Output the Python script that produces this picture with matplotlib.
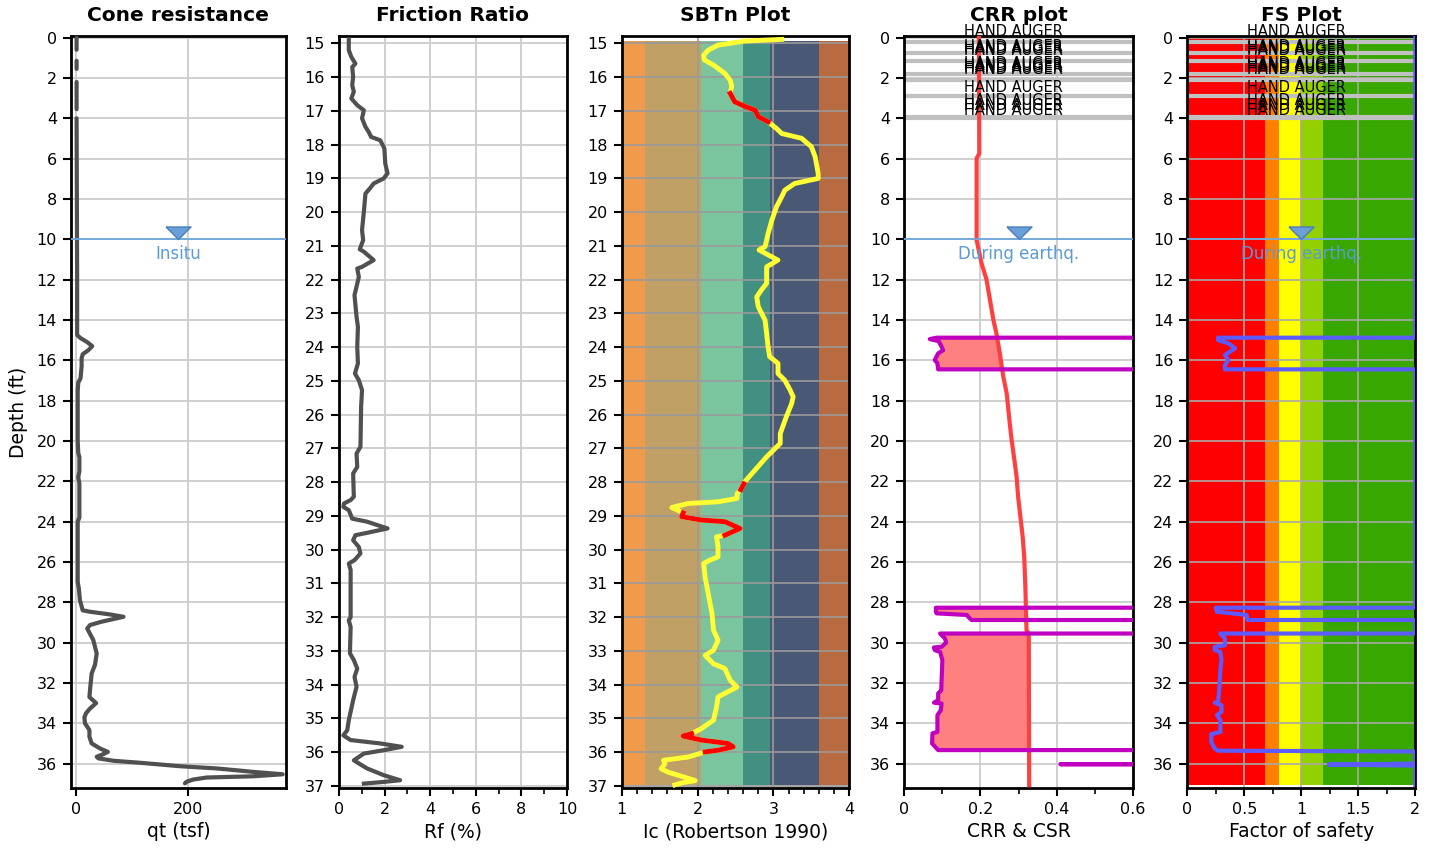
import numpy as np
import matplotlib
matplotlib.use('Agg')
import matplotlib.pyplot as plt
from matplotlib.ticker import MultipleLocator

nan = np.nan

# cone resistance qt (tsf) vs depth (ft), nan = gap (hand auger zone)
qt_depth = [0.00, 0.60, nan, 1.15, 1.55, nan, 2.20, 2.95, nan, 3.05,
            3.55, nan, 4.00, 8.00, 12.0, 14.75, 14.90, 15.10, 15.30, 15.50,
            15.70, 15.90, 16.30, 16.60, 16.90, 17.10, 17.50, 20.00, 20.60, 20.80,
            21.50, 21.80, 22.10, 23.80, 24.00, 27.00, 27.30, 27.90, 28.40, 28.47,
            28.60, 28.72, 28.97, 29.13, 29.30, 29.88, 30.54, 31.10, 31.53, 32.36,
            32.70, 33.00, 33.27, 33.50, 33.70, 34.00, 34.34, 34.67, 35.00, 35.25,
            35.42, 35.53, 35.66, 35.74, 35.86, 35.96, 36.13, 36.24, 36.41, 36.53,
            36.63, 36.69, 36.79, 36.90, 36.98]
qt_val = [1, 1, nan, 1, 1, nan, 1, 1, nan, 1,
          1, nan, 1, 1.5, 2, 2, 8, 20, 29, 22,
          12, 10, 10, 9, 8, 4, 3, 3, 4, 6,
          6, 4, 6, 6, 3, 3, 5, 7, 12, 25,
          60, 85, 45, 25, 20, 31, 37, 34, 28, 25,
          24, 36, 25, 18, 15, 16, 24, 24, 28, 43,
          57, 49, 37, 40, 67, 115, 186, 252, 317, 370,
          317, 234, 210, 198, 195]

# friction ratio Rf (%)
rf_depth = [14.88, 15.20, 15.40, 15.60, 15.70, 15.99, 16.24, 16.43, 16.63, 16.83,
            16.98, 17.22, 17.47, 17.62, 17.77, 17.87, 18.11, 18.56, 18.85, 19.00,
            19.15, 19.30, 19.45, 19.99, 20.53, 20.83, 21.10, 21.17, 21.42, 21.62,
            21.67, 21.92, 22.46, 23.10, 23.40, 23.99, 24.48, 24.78, 24.98, 25.27,
            25.77, 26.95, 27.15, 27.55, 27.74, 28.43, 28.53, 28.63, 28.73, 28.83,
            29.08, 29.17, 29.37, 29.50, 29.57, 29.72, 29.92, 30.11, 30.31, 30.41,
            30.60, 32.00, 32.09, 32.29, 33.07, 33.27, 33.52, 33.77, 34.06, 34.46,
            35.05, 35.35, 35.50, 35.64, 35.74, 35.84, 35.94, 36.04, 36.24, 36.39,
            36.48, 36.68, 36.83, 36.88, 36.93]
rf_val = [0.43, 0.43, 0.54, 0.72, 0.58, 0.62, 0.58, 0.65, 0.54, 0.80,
          1.09, 1.01, 1.16, 1.30, 1.41, 1.81, 1.99, 2.03, 2.13, 1.96,
          1.52, 1.35, 1.16, 1.09, 1.01, 1.06, 0.91, 1.09, 1.52, 1.01,
          0.80, 0.87, 0.68, 0.77, 0.83, 0.80, 0.83, 0.70, 0.87, 1.01,
          0.97, 0.94, 0.77, 0.80, 0.62, 0.65, 0.51, 0.22, 0.19, 0.43,
          0.58, 1.23, 2.13, 1.23, 0.72, 0.62, 0.87, 0.94, 0.68, 0.43,
          0.51, 0.51, 0.43, 0.51, 0.48, 0.65, 0.80, 0.68, 0.77, 0.62,
          0.43, 0.36, 0.19, 0.51, 1.81, 2.75, 1.96, 1.09, 0.65, 1.01,
          1.23, 1.96, 2.68, 1.96, 1.09]

# soil behaviour type index Ic
ic_depth = [14.88, 14.93, 15.05, 15.20, 15.35, 15.49, 15.64, 15.89, 16.09, 16.26,
            16.48, 16.73, 16.86, 16.98, 17.17, 17.32, 17.52, 17.67, 17.81, 18.06,
            18.36, 18.85, 19.00, 19.15, 19.35, 19.54, 19.84, 20.23, 20.63, 20.83,
            21.02, 21.12, 21.42, 21.62, 22.11, 22.31, 22.51, 22.80, 23.20, 23.99,
            24.28, 24.48, 24.78, 24.98, 25.27, 25.47, 25.67, 26.06, 26.56, 26.85,
            27.25, 27.99, 28.05, 28.22, 28.34, 28.48, 28.58, 28.63, 28.75, 28.91,
            29.02, 29.12, 29.17, 29.37, 29.57, 29.62, 29.92, 30.21, 30.31, 30.41,
            30.81, 31.30, 31.89, 32.38, 32.68, 32.98, 33.13, 33.38, 33.52, 33.87,
            34.07, 34.36, 34.66, 35.05, 35.30, 35.45, 35.52, 35.64, 35.74, 35.84,
            35.94, 35.99, 36.14, 36.24, 36.34, 36.49, 36.59, 36.74, 36.84, 36.91,
            36.97]
ic_val = [3.11, 2.62, 2.27, 2.14, 2.08, 2.09, 2.21, 2.36, 2.43, 2.45,
          2.43, 2.49, 2.62, 2.76, 2.80, 2.93, 3.04, 3.11, 3.37, 3.50,
          3.55, 3.59, 3.59, 3.28, 3.15, 3.11, 3.04, 2.98, 2.93, 2.91,
          2.89, 2.81, 3.06, 2.91, 2.91, 2.84, 2.78, 2.80, 2.89, 2.93,
          2.95, 3.06, 3.06, 3.15, 3.22, 3.26, 3.24, 3.17, 3.09, 3.09,
          2.91, 2.62, 2.61, 2.57, 2.52, 2.52, 2.27, 1.88, 1.66, 1.81,
          1.79, 2.05, 2.36, 2.56, 2.36, 2.25, 2.27, 2.27, 2.16, 2.08,
          2.10, 2.14, 2.19, 2.21, 2.27, 2.21, 2.10, 2.21, 2.36, 2.43,
          2.52, 2.27, 2.25, 2.21, 2.05, 1.92, 1.81, 2.05, 2.40, 2.47,
          2.27, 2.10, 1.88, 1.55, 1.57, 1.52, 1.61, 1.83, 1.97, 1.79,
          1.70]
ic_red_ranges = [(16.45, 17.35), (28.04, 28.23), (28.90, 29.58), (35.44, 36.00)]

# SBTn zone boundaries and colours
sbt_bounds = [1.0, 1.31, 2.05, 2.6, 2.95, 3.6, 4.0]
sbt_colors = ['#f09a4b', '#c0a064', '#7ac49e', '#429082', '#495875', '#b86a40']

# CSR (red) and CRR (magenta)
csr_depth = [0.0, 5.74, 5.99, 10.04, 11.2, 12.0, 13.0, 14.0, 14.67, 15.66, 16.81, 17.64,
             19.13, 19.96, 20.78, 21.77, 22.77, 23.76, 24.75, 25.75, 27.23, 29.38, 29.55, 37.07]
csr_val = [0.196, 0.197, 0.19, 0.19, 0.203, 0.216, 0.225, 0.234, 0.242, 0.251, 0.26, 0.269,
           0.277, 0.282, 0.288, 0.295, 0.299, 0.305, 0.311, 0.315, 0.318, 0.321, 0.327, 0.328]
crr_depth = [0.0, 14.88, 14.88, 14.95, 15.05, 15.33, 15.5, 15.66, 15.99, 16.15, 16.45, 16.45,
             28.27, 28.27, 28.47, 28.55, 28.63, 28.8, 28.88, 28.88, 29.55, 29.55, 29.8, 30.0,
             30.21, 30.24, 30.37, 30.46, 30.87, 32.36, 32.52, 32.85, 32.98, 33.02, 33.35, 33.6,
             34.43, 34.5, 35.0, 35.25, 35.33, 35.33, 36.0, 36.03, 36.06, 37.06]
crr_val = [2, 2, 0.085, 0.067, 0.09, 0.098, 0.102, 0.089, 0.08, 0.087, 0.089, 2,
           2, 0.083, 0.083, 0.085, 0.164, 0.172, 0.177, 2, 2, 0.094, 0.107, 0.11,
           0.098, 0.078, 0.08, 0.094, 0.1, 0.097, 0.089, 0.089, 0.078, 0.098, 0.096, 0.087,
           0.087, 0.074, 0.073, 0.085, 0.089, 2, 2, 0.41, 2, 2]

# factor of safety
fs_depth = [0.0, 14.88, 14.88, 15.0, 15.16, 15.41, 15.74, 15.99, 16.24, 16.45, 16.45,
            28.27, 28.27, 28.47, 28.63, 28.88, 28.88, 29.55, 29.55, 29.8, 30.13, 30.21,
            30.37, 30.46, 30.87, 31.37, 32.36, 32.94, 32.98, 33.1, 33.43, 33.6, 33.85,
            34.43, 34.54, 34.92, 35.25, 35.36, 35.4, 36.0, 36.05, 36.1, 37.06]
fs_val = [2, 2, 0.27, 0.27, 0.36, 0.42, 0.33, 0.36, 0.33, 0.33, 2,
          2, 0.25, 0.26, 0.52, 0.53, 2, 2, 0.29, 0.33, 0.33, 0.24,
          0.24, 0.29, 0.30, 0.29, 0.28, 0.27, 0.24, 0.30, 0.30, 0.26, 0.29,
          0.29, 0.21, 0.21, 0.24, 0.27, 2, 2, 1.24, 2, 2]
fs_bounds = [0, 0.68, 0.8, 1.0, 1.19, 2.0]
fs_colors = ['#fe0000', '#ff8000', '#ffff00', '#92d000', '#38a800']

# hand auger layers
auger_lines = [0.2, 0.74, 1.16, 1.8, 2.1, 2.89, 3.92, 4.0]
auger_labels = [-0.3, 0.45, 0.55, 0.65, 1.27, 1.37, 1.47, 1.6, 2.46, 3.1, 3.35, 3.6]

gwt = 10.0

plt.rcParams['font.family'] = 'DejaVu Sans'
fig = plt.figure(figsize=(14.31, 8.55), dpi=100)


def px_axes(x0, x1, y0=36, y1=788):
    return fig.add_axes([x0 / 1431, 1 - y1 / 855, (x1 - x0) / 1431, (y1 - y0) / 855])


def style(ax, title, xlabel):
    ax.set_title(title, fontsize=14.5, fontweight='bold', pad=11)
    ax.set_xlabel(xlabel, fontsize=13.5, labelpad=4)
    for s in ax.spines.values():
        s.set_linewidth(2)
    ax.tick_params(which='major', direction='out', length=6, width=1.5, labelsize=11.5, pad=4)
    ax.tick_params(which='minor', direction='out', length=4, width=1.2)
    ax.grid(True, which='major', color='#cccccc', lw=1.3)


tri = [(-1, 1), (1, 1), (0, 0), (-1, 1)]


def water(ax, label):
    ax.axhline(gwt, color='#6fa8dc', lw=1.3, zorder=3)
    tr = ax.get_yaxis_transform()
    ax.plot(0.5, gwt, marker=tri, ms=18, mfc='#6a9fd8', mec='#4a7ebb', mew=1,
            transform=tr, zorder=4)
    ax.text(0.5, gwt + 0.75, label, transform=tr, ha='center', va='center',
            fontsize=12, color='#5b9bd5', zorder=4)


def auger(ax):
    for d in auger_lines:
        ax.axhline(d, color='#c0c0c0', lw=3, zorder=2.5)
    for d in auger_labels:
        ax.text(0.48, d, 'HAND AUGER', transform=ax.get_yaxis_transform(), ha='center',
                va='center', fontsize=10.5, color='black', zorder=5, clip_on=False)


# --- Cone resistance
ax1 = px_axes(71, 285.7)
ax1.plot(qt_val, qt_depth, color='#505050', lw=3, solid_capstyle='round', zorder=3)
ax1.set_xlim(-9, 375.5)
ax1.set_ylim(37.21, -0.08)
ax1.set_xticks([0, 200])
ax1.set_yticks(np.arange(0, 37, 2))
style(ax1, 'Cone resistance', 'qt (tsf)')
ax1.set_ylabel('Depth (ft)', fontsize=13.5, labelpad=6)
water(ax1, 'Insitu')

# --- Friction ratio
ax2 = px_axes(339, 567)
ax2.plot(rf_val, rf_depth, color='#505050', lw=3, zorder=3)
ax2.set_xlim(0, 10)
ax2.set_ylim(37.06, 14.78)
ax2.set_xticks(np.arange(0, 11, 2))
ax2.xaxis.set_minor_locator(MultipleLocator(1))
ax2.set_yticks(np.arange(15, 38, 1))
style(ax2, 'Friction Ratio', 'Rf (%)')

# --- SBTn
ax3 = px_axes(621.7, 849.3)
for i, c in enumerate(sbt_colors):
    ax3.fill_betweenx([14.93, 36.98], sbt_bounds[i], sbt_bounds[i + 1], color=c, lw=0, zorder=1)
ax3.fill_betweenx([36.98, 37.06], 1, 4, color='#d6d6d6', lw=0, zorder=1)
ic_d = np.array(ic_depth)
ic_v = np.array(ic_val)
ax3.plot(ic_v, ic_d, color='#ffff33', lw=3.5, zorder=3)
red_mask = np.zeros(len(ic_d), bool)
for a, b in ic_red_ranges:
    red_mask |= (ic_d >= a) & (ic_d <= b)
ax3.plot(np.where(red_mask, ic_v, nan), ic_d, color='#ff0000', lw=3.5, zorder=4)
ax3.set_xlim(1, 4)
ax3.set_ylim(37.06, 14.78)
ax3.set_xticks([1, 2, 3, 4])
ax3.xaxis.set_minor_locator(MultipleLocator(0.2))
ax3.set_yticks(np.arange(15, 38, 1))
style(ax3, 'SBTn Plot', 'Ic (Robertson 1990)')
ax3.grid(True, which='major', color='#9a9a9a', lw=1.2)

# --- CRR
ax4 = px_axes(904.3, 1132.7)
crr_d = np.array(crr_depth)
crr_v = np.array(crr_val)
csr_at = np.interp(crr_d, csr_depth, csr_val)
ax4.fill_betweenx(crr_d, crr_v, csr_at, where=crr_v < csr_at, color='#ff8080', lw=0, zorder=2)
ax4.plot(csr_val, csr_depth, color='#ff4040', lw=3, zorder=3)
ax4.plot(crr_v, crr_d, color='#c000c0', lw=3, zorder=3)
ax4.set_xlim(0, 0.6)
ax4.set_ylim(37.21, -0.08)
ax4.set_xticks([0, 0.2, 0.4, 0.6])
ax4.set_xticklabels(['0', '0.2', '0.4', '0.6'])
ax4.xaxis.set_minor_locator(MultipleLocator(0.1))
ax4.set_yticks(np.arange(0, 37, 2))
style(ax4, 'CRR plot', 'CRR & CSR')
auger(ax4)
water(ax4, 'During earthq.')

# --- FS
ax5 = px_axes(1187.3, 1415.3)
for i, c in enumerate(fs_colors):
    ax5.fill_betweenx([-0.08, 37.06], fs_bounds[i], fs_bounds[i + 1], color=c, lw=0, zorder=1)
ax5.plot(fs_val, fs_depth, color='#5b5bff', lw=3, zorder=3)
ax5.set_xlim(0, 2)
ax5.set_ylim(37.21, -0.08)
ax5.set_xticks([0, 0.5, 1, 1.5, 2])
ax5.set_xticklabels(['0', '0.5', '1', '1.5', '2'])
ax5.xaxis.set_minor_locator(MultipleLocator(0.25))
ax5.set_yticks(np.arange(0, 37, 2))
style(ax5, 'FS Plot', 'Factor of safety')
ax5.grid(True, which='major', color='#a8a8a8', lw=1.2)
auger(ax5)
water(ax5, 'During earthq.')

fig.savefig('out.png', dpi=100)
